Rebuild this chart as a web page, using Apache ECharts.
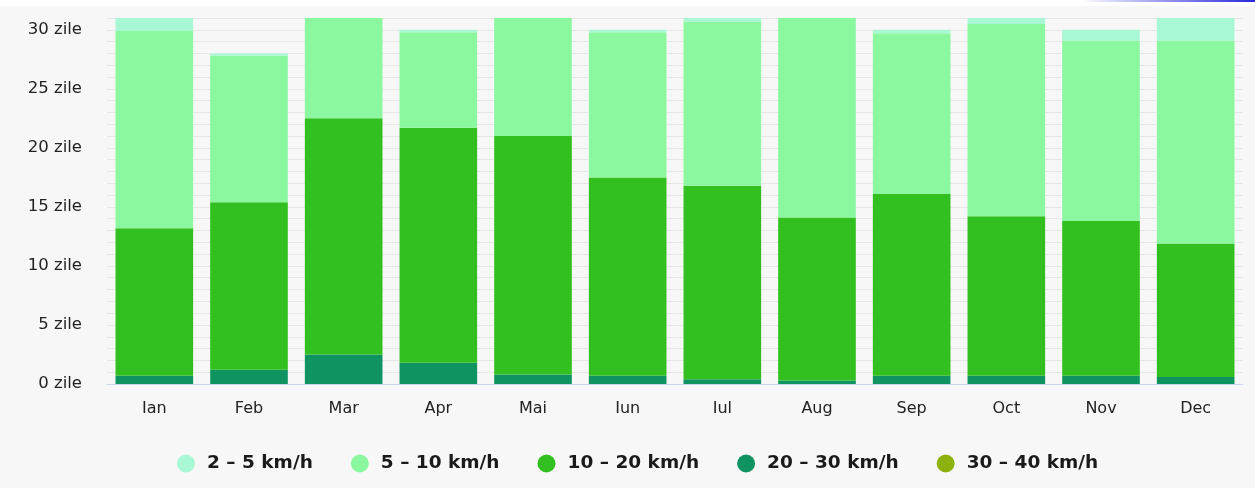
<!DOCTYPE html>
<html>
<head>
<meta charset="utf-8">
<script src="https://cdn.jsdelivr.net/npm/echarts@6/dist/echarts.min.js"></script>
<style>
  html, body { margin: 0; padding: 0; background: #f7f7f7; }
  #chart { width: 1255px; height: 488px; }
</style>
</head>
<body>
<div id="chart"></div>
<script>
// luni
const months = ["Ian", "Feb", "Mar", "Apr", "Mai", "Iun", "Iul", "Aug", "Sep", "Oct", "Nov", "Dec"];
// zile pe interval de viteza a vantului
const wind2to5 = [1.1, 0.2, 0, 0.2, 0, 0.2, 0.3, 0, 0.3, 0.5, 0.9, 1.9];
const wind5to10 = [16.7, 12.4, 8.5, 8.1, 10.0, 12.3, 13.9, 16.9, 13.6, 16.3, 15.3, 17.2];
const wind10to20 = [12.5, 14.2, 20.0, 19.9, 20.2, 16.8, 16.4, 13.8, 15.4, 13.5, 13.1, 11.3];
const wind20to30 = [0.7, 1.2, 2.5, 1.8, 0.8, 0.7, 0.4, 0.3, 0.7, 0.7, 0.7, 0.6];
const wind30to40 = [0, 0, 0, 0, 0, 0, 0, 0, 0, 0, 0, 0];
const yTicks = [0, 5, 10, 15, 20, 25, 30];

const chart = echarts.init(document.getElementById("chart"));

function bar(name, data, color) {
  return {
    name: name,
    type: "bar",
    stack: "zile",
    data: data,
    barCategoryGap: "18%",
    itemStyle: { color: color },
    emphasis: { disabled: true },
  };
}

chart.setOption({
  backgroundColor: "#f7f7f7",
  animation: false,
  textStyle: { fontFamily: "DejaVu Sans" },
  grid: { left: 107, right: 12, top: 18, bottom: 104 },
  legend: {
    top: 449,
    left: 172,
    icon: "circle",
    itemWidth: 18,
    itemHeight: 18,
    itemGap: 38,
    textStyle: { fontSize: 18.5, fontWeight: "bold", color: "#1a1a1a", padding: [0, 0, 0, 7] },
    data: ["2 – 5 km/h", "5 – 10 km/h", "10 – 20 km/h", "20 – 30 km/h", "30 – 40 km/h"],
  },
  xAxis: {
    type: "category",
    data: months,
    axisTick: { show: false },
    axisLine: { lineStyle: { color: "#ccd6eb" } },
    axisLabel: { color: "#222", fontSize: 16, margin: 17 },
  },
  yAxis: {
    type: "value",
    min: 0,
    max: 31,
    interval: 1,
    axisLabel: {
      color: "#222",
      fontSize: 16.5,
      margin: 25,
      formatter: (v) => (yTicks.includes(v) ? v + " zile" : ""),
    },
    splitLine: { lineStyle: { color: "#e6e6e6" } },
  },
  graphic: [
    { type: "rect", left: 0, top: 0, shape: { width: 1255, height: 6 }, style: { fill: "#ffffff" }, silent: true },
    {
      type: "rect", left: 1080, top: 0, shape: { width: 175, height: 2 }, silent: true,
      style: {
        fill: new echarts.graphic.LinearGradient(0, 0, 1, 0, [
          { offset: 0, color: "rgba(40,40,220,0)" },
          { offset: 1, color: "rgba(40,40,220,1)" },
        ]),
      },
    },
  ],
  series: [
    bar("30 – 40 km/h", wind30to40, "#8db10e"),
    bar("20 – 30 km/h", wind20to30, "#0f9360"),
    bar("10 – 20 km/h", wind10to20, "#32bf20"),
    bar("5 – 10 km/h", wind5to10, "#8bf8a0"),
    bar("2 – 5 km/h", wind2to5, "#a9f8d5"),
  ],
});
</script>
</body>
</html>
